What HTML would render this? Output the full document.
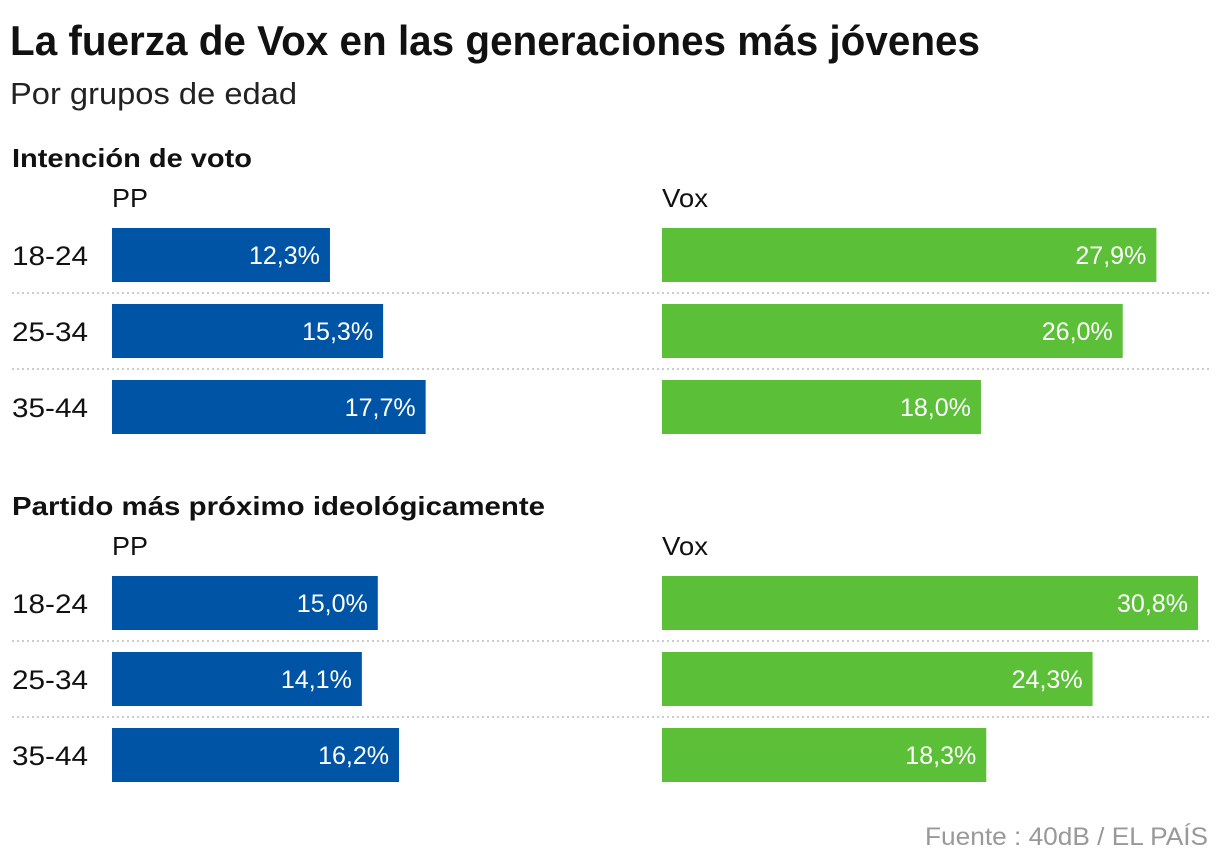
<!DOCTYPE html>
<html><head><meta charset="utf-8">
<style>
html,body{margin:0;padding:0;background:#fff;}
body{width:1220px;height:866px;position:relative;overflow:hidden;font-family:"Liberation Sans",sans-serif;color:#111;}
</style></head>
<body>
<svg id="chart" width="1220" height="866" style="position:absolute;left:0;top:0;font-family:'Liberation Sans',sans-serif;">
<text x="10" y="55" font-size="42" font-weight="bold" fill="#111" textLength="970" lengthAdjust="spacingAndGlyphs">La fuerza de Vox en las generaciones más jóvenes</text>
<text x="10" y="104" font-size="31" fill="#222" textLength="287" lengthAdjust="spacingAndGlyphs">Por grupos de edad</text>
<text x="925" y="845" font-size="25" fill="#999" textLength="283" lengthAdjust="spacingAndGlyphs">Fuente : 40dB / EL PAÍS</text>
</svg>
<script>
const ages = ["18-24","25-34","35-44"];
const sections = ["Intención de voto","Partido más próximo ideológicamente"];
const ppVoto = [12.3,15.3,17.7];
const voxVoto = [27.9,26.0,18.0];
const ppIdeo = [15.0,14.1,16.2];
const voxIdeo = [30.8,24.3,18.3];
const NS="http://www.w3.org/2000/svg";
const svg=document.getElementById('chart');
const scale=17.72, maxW=536;
function x(v){return Math.min(v*scale,maxW);}
function mk(tag,attrs,text){const e=document.createElementNS(NS,tag);for(const k in attrs)e.setAttribute(k,attrs[k]);if(text!==undefined)e.textContent=text;svg.appendChild(e);return e;}
const secTop=[157,505];
const secLen=[240,533];
const data=[[ppVoto,voxVoto],[ppIdeo,voxIdeo]];
sections.forEach((s,si)=>{
  const top=secTop[si];
  let e=mk('text',{x:12,y:top+10,'font-size':26,'font-weight':'bold',fill:'#111',textLength:secLen[si],lengthAdjust:'spacingAndGlyphs'},s);
  
  
  e=mk('text',{x:112,y:top+50,'font-size':26,fill:'#111',textLength:36,lengthAdjust:'spacingAndGlyphs'},'PP');
  
  
  e=mk('text',{x:662,y:top+50,'font-size':26,fill:'#111',textLength:46,lengthAdjust:'spacingAndGlyphs'},'Vox');
  
  
  ages.forEach((a,i)=>{
    const y=top+71+i*76;
    e=mk('text',{x:12,y:y+37,'font-size':27,fill:'#111',textLength:76,lengthAdjust:'spacingAndGlyphs'},a);
    
    
    if(i<2){
      e=mk('line',{x1:12,x2:1210,y1:y+65,y2:y+65,stroke:'#bbb','stroke-width':1.5,'stroke-dasharray':'2,3'});
      
      
    }
    [[112,data[si][0][i],'#0054a6','pp'],[662,data[si][1][i],'#5bbf38','vox']].forEach(([x0,v,c,n])=>{
      const w=x(v);
      let r=mk('rect',{x:x0,y:y,width:w,height:54,fill:c});
      
      
      let t=mk('text',{x:x0+w-10,y:y+36,'font-size':25,fill:'#fff','text-anchor':'end',textLength:71,lengthAdjust:'spacingAndGlyphs'},v.toFixed(1).replace('.',',')+'%');
      
      
    });
  });
});
</script>
</body></html>
